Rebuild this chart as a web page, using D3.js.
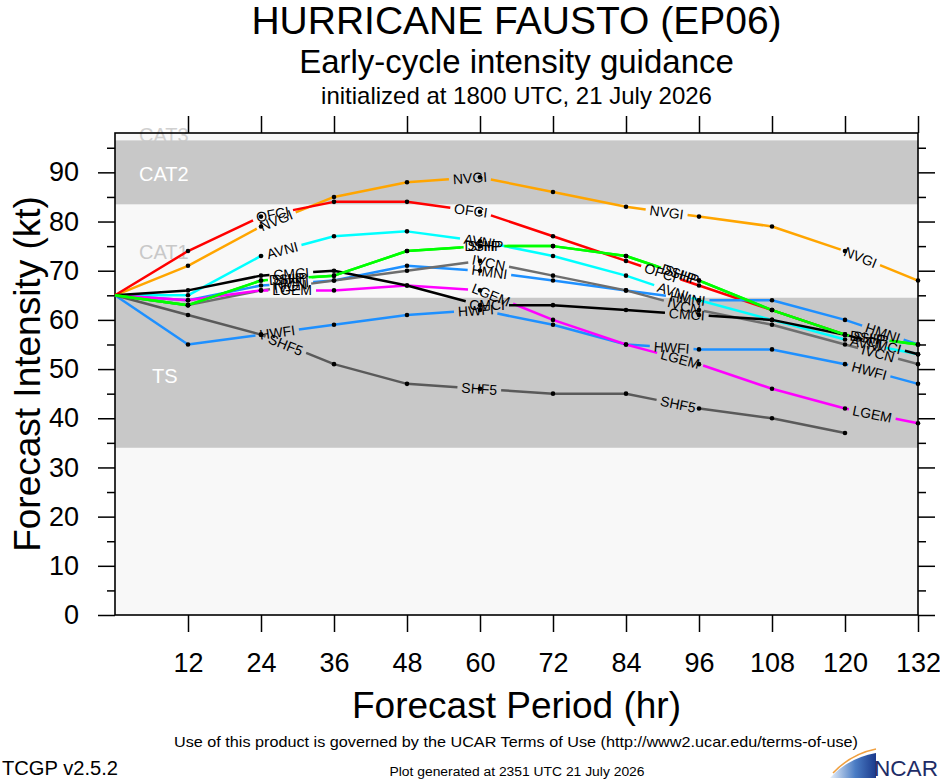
<!DOCTYPE html>
<meta charset="utf-8">
<head>
  <title>Early-cycle intensity guidance</title>
</head>

<style>
  body {
    margin: 0;
    background: #fff;
  }
  svg text {
    font-family: "Liberation Sans", Arial, Helvetica, sans-serif;
  }
</style>

<body>
<svg id="chart" width="940" height="780"></svg>

<script src="https://cdnjs.cloudflare.com/ajax/libs/d3/7.8.5/d3.min.js"></script>
<script>
  // forecast hours and model intensities (kt)
  var hours = [0, 12, 24, 36, 48, 60, 72, 84, 96, 108, 120, 132];

  var nvgi = [65, 71, 79, 85, 88, 89, 86, 83, 81, 79, 74, 68];
  var ofci = [65, 74, 81, 84, 84, 82, 77, 72, 67, 62, 57];
  var avni = [65, 65, 73, 77, 78, 76, 73, 69, 64, 60, 56, 53];
  var hmni = [65, 64, 67, 68, 71, 70, 68, 66, 64, 64, 60, 55];
  var hwfi = [65, 55, 57, 59, 61, 62, 59, 55, 54, 54, 51, 47];
  var ivcn = [65, 63, 66, 68, 70, 72, 69, 66, 62, 59, 55, 51];
  var shf5 = [65, 61, 57, 51, 47, 46, 45, 45, 42, 40, 37];
  var lgem = [65, 64, 66, 66, 67, 66, 60, 55, 51, 46, 42, 39];
  var cmci = [65, 66, 69, 70, 67, 63, 63, 62, 61, 60, 57, 53];
  var dshp = [65, 63, 68, 69, 74, 75, 75, 73, 68, 62, 57, 55];
  var ship = [65, 63, 68, 69, 74, 75, 75, 73, 68, 62, 57, 55];

  var modelNames = ['NVGI', 'OFCI', 'AVNI', 'HMNI', 'HWFI', 'IVCN', 'SHF5', 'LGEM', 'CMCI', 'DSHP', 'SHIP'];
  var modelValues = [nvgi, ofci, avni, hmni, hwfi, ivcn, shf5, lgem, cmci, dshp, ship];
  var modelColors = ['#ffa500', '#ff0000', '#00ffff', '#1e90ff', '#1e90ff', '#6e6e6e',
                     '#5a5a5a', '#ff00ff', '#000000', '#00ff00', '#00ff00'];

  // intensity bands (kt) and their names
  var bandNames = ['TS', 'CAT1', 'CAT2', 'CAT3'];
  var bandLimits = [[34, 64.5], [64.5, 83.5], [83.5, 96.5], [96.5, 112]];
  var bandLabelKt = [47.2, 72.4, 88.2, 96.2];

  var xTicks = [12, 24, 36, 48, 60, 72, 84, 96, 108, 120, 132];
  var yTicks = [0, 10, 20, 30, 40, 50, 60, 70, 80, 90];
  var yMinor = [5, 15, 25, 35, 45, 55, 65, 75, 85, 95];

  var svg = d3.select('#chart');

  var x = d3.scaleLinear().domain([0, 132]).range([115, 918]);
  var y = d3.scaleLinear().domain([0, 98]).range([615, 133]);
  var cx = (x.range()[0] + x.range()[1]) / 2;

  // titles
  svg.append('text').attr('x', cx).attr('y', 34).attr('text-anchor', 'middle')
    .style('font-size', '39px').text('HURRICANE FAUSTO (EP06)');
  svg.append('text').attr('x', cx).attr('y', 73).attr('text-anchor', 'middle')
    .style('font-size', '33px').text('Early-cycle intensity guidance');
  svg.append('text').attr('x', cx).attr('y', 104).attr('text-anchor', 'middle')
    .style('font-size', '24px').text('initialized at 1800 UTC, 21 July 2026');

  // plot background
  svg.append('rect')
    .attr('x', x(0)).attr('y', y(98))
    .attr('width', x(132) - x(0)).attr('height', y(0) - y(98))
    .style('fill', '#f8f8f8');

  // CAT3 label sits partly above the frame, under the CAT2 band
  svg.append('text').attr('x', 139).attr('y', y(bandLabelKt[3]))
    .style('font-size', '20px').style('fill', '#d0d0d0').text(bandNames[3]);

  svg.selectAll('rect.band')
    .data([bandLimits[0], bandLimits[2]])
    .enter()
    .append('rect')
    .attr('class', 'band')
    .attr('x', x(0))
    .attr('y', function(d) { return y(d[1]); })
    .attr('width', x(132) - x(0))
    .attr('height', function(d) { return y(d[0]) - y(d[1]); })
    .style('fill', '#c8c8c8');

  svg.selectAll('text.bandname')
    .data([0, 1, 2])
    .enter()
    .append('text')
    .attr('class', 'bandname')
    .attr('x', function(i) { return i === 0 ? 152 : 139; })
    .attr('y', function(i) { return y(bandLabelKt[i]); })
    .style('font-size', '20px')
    .style('fill', function(i) { return i === 1 ? '#c8c8c8' : '#ffffff'; })
    .text(function(i) { return bandNames[i]; });

  // axes
  function styleAxis(g) {
    g.select('.domain').remove();
    g.selectAll('line').style('stroke', '#000').style('stroke-width', 1.5);
    g.selectAll('text').style('font-size', '27px').style('fill', '#000')
      .style('font-family', '"Liberation Sans", Arial, sans-serif');
  }

  svg.append('g').attr('transform', 'translate(' + x(0) + ',0)')
    .call(d3.axisLeft(y).tickValues(yTicks).tickSize(17).tickPadding(19))
    .call(styleAxis);
  svg.append('g').attr('transform', 'translate(' + x(0) + ',0)')
    .call(d3.axisLeft(y).tickValues(yMinor).tickSize(8).tickFormat(''))
    .call(styleAxis);
  svg.append('g').attr('transform', 'translate(' + x(132) + ',0)')
    .call(d3.axisRight(y).tickValues(yTicks).tickSize(17).tickFormat(''))
    .call(styleAxis);
  svg.append('g').attr('transform', 'translate(' + x(132) + ',0)')
    .call(d3.axisRight(y).tickValues(yMinor).tickSize(8).tickFormat(''))
    .call(styleAxis);
  svg.append('g').attr('transform', 'translate(0,' + y(0) + ')')
    .call(d3.axisBottom(x).tickValues(xTicks).tickSize(17).tickPadding(21))
    .call(styleAxis);
  svg.append('g').attr('transform', 'translate(0,' + y(98) + ')')
    .call(d3.axisTop(x).tickValues(xTicks).tickSize(17).tickFormat(''))
    .call(styleAxis);

  svg.append('rect')
    .attr('x', x(0)).attr('y', y(98))
    .attr('width', x(132) - x(0)).attr('height', y(0) - y(98))
    .style('fill', 'none').style('stroke', '#000').style('stroke-width', 1.6);

  // axis titles
  svg.append('text')
    .attr('transform', 'translate(40,' + ((y(0) + y(98)) / 2) + ') rotate(-90)')
    .attr('text-anchor', 'middle')
    .style('font-size', '37px')
    .text('Forecast Intensity (kt)');
  svg.append('text').attr('x', cx).attr('y', 718).attr('text-anchor', 'middle')
    .style('font-size', '37px').text('Forecast Period (hr)');

  // model lines with inline labels
  var line = d3.line();
  var gLines = svg.append('g');
  var gDots = svg.append('g');
  var gLabels = svg.append('g');

  modelNames.forEach(function(name, k) {
    var vals = modelValues[k];
    var pts = vals.map(function(v, i) { return [x(hours[i]), y(v)]; });

    var path = gLines.append('path')
      .datum(pts)
      .attr('d', line)
      .style('fill', 'none')
      .style('stroke', modelColors[k])
      .style('stroke-width', 2.5)
      .style('stroke-linejoin', 'round');

    var node = path.node();
    var L = node.getTotalLength();

    var probe = gLabels.append('text').style('font-size', '14px').text(name);
    var half = probe.node().getComputedTextLength() / 2 + 4;
    probe.remove();

    var dashes = [];
    var pos = 0;
    for (var s = 178; s + half < L; s += 200) {
      dashes.push(s - half - pos, 2 * half);
      pos = s + half;
      var p = node.getPointAtLength(s);
      var a = node.getPointAtLength(Math.max(0, s - 3));
      var b = node.getPointAtLength(Math.min(L, s + 3));
      var ang = Math.atan2(b.y - a.y, b.x - a.x) * 180 / Math.PI;
      gLabels.append('text')
        .attr('transform', 'translate(' + p.x + ',' + p.y + ') rotate(' + ang + ')')
        .attr('text-anchor', 'middle')
        .attr('dy', '0.36em')
        .style('font-size', '14px')
        .style('fill', '#000')
        .text(name);
    }
    dashes.push(L - pos + 5, L + 10);
    path.style('stroke-dasharray', dashes.join(','));

    gDots.selectAll(null)
      .data(pts.slice(1))
      .enter()
      .append('circle')
      .attr('cx', function(d) { return d[0]; })
      .attr('cy', function(d) { return d[1]; })
      .attr('r', 2.3)
      .style('fill', '#000');
  });

  // footer
  svg.append('text').attr('x', 516).attr('y', 747).attr('text-anchor', 'middle')
    .attr('textLength', 684).attr('lengthAdjust', 'spacingAndGlyphs')
    .style('font-size', '15px')
    .text('Use of this product is governed by the UCAR Terms of Use (http://www2.ucar.edu/terms-of-use)');
  svg.append('text').attr('x', 2).attr('y', 775)
    .attr('textLength', 116).attr('lengthAdjust', 'spacingAndGlyphs')
    .style('font-size', '20px').text('TCGP v2.5.2');
  svg.append('text').attr('x', 517).attr('y', 776).attr('text-anchor', 'middle')
    .attr('textLength', 255).attr('lengthAdjust', 'spacingAndGlyphs')
    .style('font-size', '12px').text('Plot generated at 2351 UTC   21 July 2026');

  // NCAR logo
  var grad = svg.append('defs').append('linearGradient').attr('id', 'swoosh')
    .attr('x1', '0%').attr('x2', '100%').attr('y1', '0%').attr('y2', '0%');
  grad.append('stop').attr('offset', '0%').attr('stop-color', '#e8f0fa');
  grad.append('stop').attr('offset', '55%').attr('stop-color', '#4a7cc4');
  grad.append('stop').attr('offset', '100%').attr('stop-color', '#1b3a8c');
  svg.append('path')
    .attr('d', 'M830,778 Q848,758 876,753 L876,778 Z')
    .style('fill', 'url(#swoosh)');
  svg.append('path')
    .attr('d', 'M833,773 Q851,754 876,749')
    .style('fill', 'none').style('stroke', '#f0a040').style('stroke-width', 1.5);
  svg.append('text').attr('x', 874).attr('y', 776)
    .attr('textLength', 64).attr('lengthAdjust', 'spacingAndGlyphs')
    .style('font-size', '22px').style('fill', '#1e2c66').text('NCAR');
</script>
</body>
</html>
